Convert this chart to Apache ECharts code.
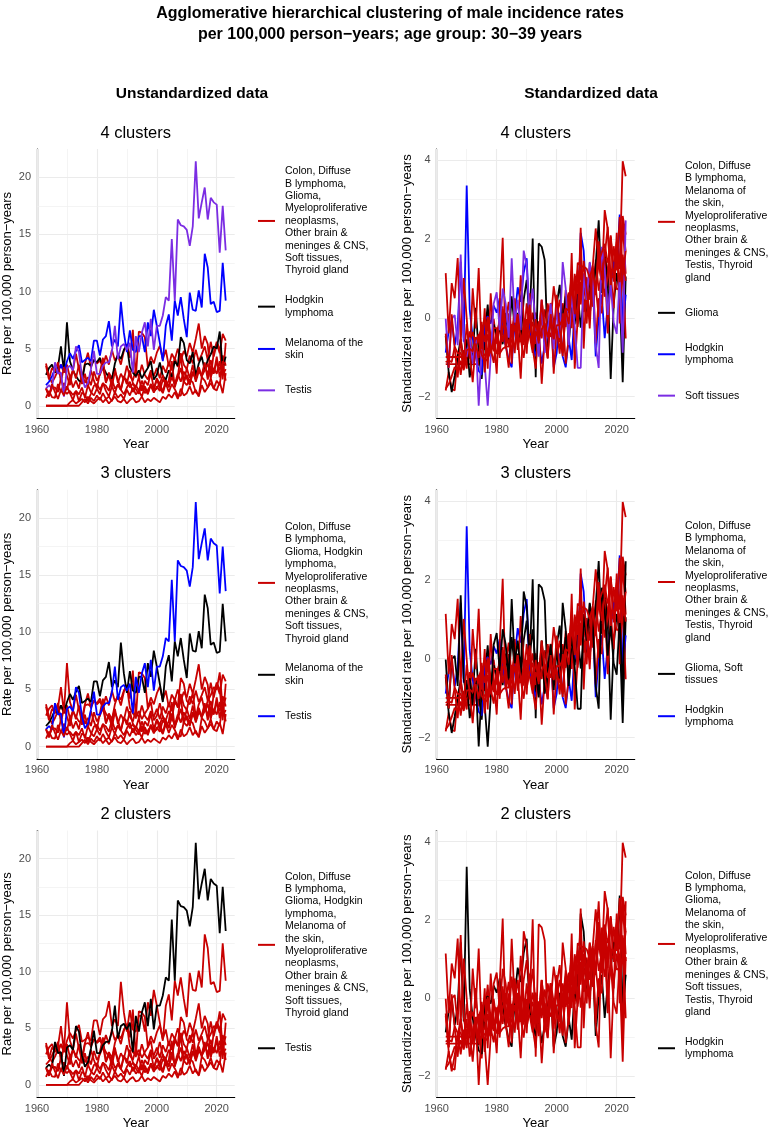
<!DOCTYPE html>
<html>
<head>
<meta charset="utf-8">
<script src="https://cdn.jsdelivr.net/npm/echarts@6/dist/echarts.min.js"></script>
<style>
html, body { margin: 0; padding: 0; background: #fff; }
#main { width: 777px; height: 1131px; }
</style>
</head>
<body>
<div id="main"></div>
<script>
// male incidence rates per 100,000, age 30-39, one value per year 1963..2023
var firstYear = 1963, lastYear = 2023;
var years = [];
for (var y = firstYear; y <= lastYear; y++) years.push(y);

var colon = [0.7, 1.3, 0.75, 0.7, 1.9, 1.2, 2.0, 1.4, 2.6, 1.6,
    2.2, 1.5, 2.9, 2.0, 2.5, 1.8, 3.0, 2.2, 2.7, 3.4,
    2.1, 2.9, 2.4, 3.3, 2.0, 2.8, 2.3, 3.5, 2.6, 2.2,
    3.2, 2.5, 3.6, 2.7, 2.3, 3.1, 2.6, 3.3, 2.4, 3.5,
    2.9, 3.8, 3.1, 4.2, 3.4, 4.6, 3.6, 3.2, 4.4, 3.7,
    4.9, 3.9, 4.5, 5.2, 4.0, 5.6, 4.3, 5.4, 4.6, 6.3, 5.7];
var diffuseB = [0, 0, 0, 0, 0, 0, 0, 0, 0, 0, 0, 0,
    0.3, 0.6, 0.2, 0.7, 0.4, 0.9, 0.5, 1.1, 0.6, 0.8,
    0.4, 1.2, 0.7, 1.0, 0.6, 1.4, 0.9, 1.6, 1.0, 1.3,
    0.8, 1.7, 1.1, 1.9, 1.3, 1.5, 2.0, 1.2, 2.3, 1.6,
    2.9, 1.8, 2.4, 3.3, 2.1, 2.7, 2.0, 3.0, 2.3, 3.2,
    2.5, 3.6, 2.7, 4.0, 2.9, 3.8, 3.1, 4.4, 3.5];
var glioma = [3.7, 2.6, 2.0, 2.5, 3.1, 3.6, 2.9, 3.6, 2.45, 3.1,
    4.55, 3.2, 2.4, 3.7, 4.65, 3.35, 4.05, 3.7, 3.95, 3.45,
    4.4, 3.6, 4.9, 3.95, 4.4, 3.6, 4.8, 5.4, 4.2, 6.65,
    2.45, 6.5, 6.4, 6.0, 3.35, 4.3, 3.7, 4.65, 5.25, 4.05,
    4.9, 3.45, 4.55, 4.05, 5.0, 3.95, 4.8, 4.3, 5.5, 4.65,
    5.85, 7.2, 5.0, 6.1, 5.4, 2.4, 4.65, 5.6, 5.0, 2.3, 5.5];
var hodgkin = [2.7, 3.3, 3.6, 2.9, 3.4, 5.2, 3.0, 7.3, 3.9, 3.1,
    2.6, 2.2, 2.1, 3.6, 3.7, 3.5, 4.0, 3.8, 4.2, 3.4,
    2.9, 2.5, 2.3, 3.7, 4.5, 4.1, 4.9, 5.3, 3.4, 2.9,
    2.6, 3.1, 2.4, 2.9, 3.3, 3.9, 2.3, 2.7, 3.8, 2.6,
    2.3, 3.1, 2.5, 3.9, 3.5, 6.0, 5.5, 4.0, 3.7, 4.7,
    2.6, 3.7, 4.3, 3.1, 4.0, 4.5, 5.2, 5.0, 6.5, 3.3, 4.3];
var melanoma = [1.8, 2.1, 2.6, 3.2, 2.9, 3.6, 3.0, 3.9, 4.6, 4.1,
    4.8, 5.3, 3.8, 4.0, 4.2, 3.9, 5.7, 5.7, 4.4, 5.8,
    6.1, 7.4, 5.2, 5.8, 5.2, 9.1, 6.4, 4.7, 6.6, 4.9,
    4.7, 6.1, 6.1, 4.7, 7.3, 6.1, 8.4, 7.0, 5.5, 3.9,
    7.0, 8.0, 5.7, 9.2, 7.9, 9.5, 7.6, 6.0, 9.9, 8.4,
    8.3, 10.1, 8.6, 13.3, 12.1, 8.9, 9.1, 8.2, 8.3, 12.5, 9.2];
var myeloproliferative = [0, 0, 0, 0, 0, 0, 0, 0,
    0.3, 0.5, 0.2, 0.4, 0.6, 0.3, 0.8, 0.4, 0.2, 0.5,
    0.7, 0.3, 0.6, 0.2, 0.5, 0.8, 0.4, 0.3, 0.6, 0.2,
    0.5, 0.7, 0.3, 0.4, 0.8, 0.3, 0.6, 0.4, 0.7, 0.5,
    0.3, 0.8, 0.6,
    1.0, 0.7, 1.2, 0.6, 1.5, 0.9, 1.1, 1.7, 1.0, 1.4,
    0.8, 1.8, 1.2, 1.6, 2.4, 1.5, 2.2, 1.8, 3.9, 3.6];
var otherBrain = [3.5, 2.3, 3.3, 3.0, 3.8, 2.1, 3.4, 2.6, 1.8, 3.2,
    2.4, 3.6, 1.9, 2.8, 1.6, 3.1, 2.2, 1.5, 2.9, 4.2,
    2.0, 2.7, 1.7, 3.0, 2.3, 1.4, 2.6, 1.9, 3.1, 2.0,
    1.6, 2.5, 1.3, 2.2, 1.8, 2.9, 1.5, 2.4, 1.9, 2.7,
    1.7, 2.2, 3.9, 1.6, 2.6, 4.4, 2.0, 3.3, 2.4, 3.6,
    2.1, 3.0, 2.7, 3.8, 2.3, 3.5, 2.8, 4.3, 2.5, 3.7, 2.2];
var softTissues = [1.55, 0.9, 1.55, 1.6, 1.2, 2.4, 1.3, 1.05, 1.3, 0.95,
    1.3, 0.4, 1.15, 0.95, 0.4, 1.05, 1.75, 1.9, 1.4, 1.95,
    1.75, 1.3, 2.35, 1.5, 1.8, 1.4, 2.45, 2.25, 1.6, 1.95,
    1.45, 1.05, 1.8, 1.1, 1.4, 1.75, 1.15, 1.7, 1.3, 2.3,
    1.95, 1.2, 1.9, 1.45, 0.9, 0.9, 2.15, 1.8, 2.3, 2.05,
    1.2, 0.9, 2.5, 2.2, 1.6, 2.0, 1.5, 1.35, 2.1, 1.1, 2.85];
var testis = [1.5, 1.8, 1.5, 3.8, 2.8, 2.9, 0.8, 3.3, 3.5, 3.1,
    5.2, 4.7, 2.6, 1.6, 2.0, 3.2, 4.8, 2.8, 2.8, 3.5,
    3.8, 3.8, 4.7, 7.0, 4.1, 5.2, 5.4, 4.9, 5.5, 2.9,
    6.1, 4.7, 6.4, 7.3, 5.2, 7.6, 4.9, 7.0, 7.0, 7.9,
    9.5, 9.2, 14.6, 9.2, 16.3, 15.8, 15.7, 15.4, 14.0, 15.7,
    21.4, 16.4, 17.8, 19.1, 16.3, 18.2, 17.8, 17.6, 13.4, 17.5, 13.6];
var thyroid = [1.5, 0.8, 1.9, 1.2, 0.6, 1.4, 0.9, 1.7, 1.1, 0.5,
    1.3, 1.0, 1.6, 0.7, 1.8, 1.2, 0.9, 1.5, 1.0, 2.0,
    1.3, 0.8, 1.7, 1.1, 1.9, 1.4, 1.0, 1.6, 2.1, 1.2,
    1.8, 1.3, 2.2, 1.5, 1.0, 1.9, 1.4, 2.3, 1.6, 1.1,
    2.0, 1.7, 2.5, 1.9, 2.8, 2.1, 3.0, 2.4, 1.8, 2.9,
    2.3, 3.4, 2.6, 3.1, 3.7, 2.5, 3.3, 2.8, 3.9, 2.7, 3.2];

var cancerNames = ['Colon', 'Diffuse B lymphoma', 'Glioma', 'Hodgkin lymphoma', 'Melanoma of the skin',
    'Myeloproliferative neoplasms', 'Other brain & meninges & CNS', 'Soft tissues', 'Testis', 'Thyroid gland'];
var cancerRates = [colon, diffuseB, glioma, hodgkin, melanoma, myeloproliferative, otherBrain, softTissues, testis, thyroid];

// cluster membership per panel (index into cancerNames), first group is the big red one
var clusters4Raw = [[0, 1, 2, 5, 6, 7, 9], [3], [4], [8]];
var clusters4Std = [[0, 1, 4, 5, 6, 8, 9], [2], [3], [7]];
var clusters3Raw = [[0, 1, 2, 3, 5, 6, 7, 9], [4], [8]];
var clusters3Std = [[0, 1, 4, 5, 6, 8, 9], [2, 7], [3]];
var clusters2Raw = [[0, 1, 2, 3, 4, 5, 6, 7, 9], [8]];
var clusters2Std = [[0, 1, 2, 4, 5, 6, 7, 8, 9], [3]];

var labels4Raw = ['Colon, Diffuse\nB lymphoma,\nGlioma,\nMyeloproliferative\nneoplasms,\nOther brain &\nmeninges & CNS,\nSoft tissues,\nThyroid gland',
    'Hodgkin\nlymphoma', 'Melanoma of the\nskin', 'Testis'];
var labels4Std = ['Colon, Diffuse\nB lymphoma,\nMelanoma of\nthe skin,\nMyeloproliferative\nneoplasms,\nOther brain &\nmeninges & CNS,\nTestis, Thyroid\ngland',
    'Glioma', 'Hodgkin\nlymphoma', 'Soft tissues'];
var labels3Raw = ['Colon, Diffuse\nB lymphoma,\nGlioma, Hodgkin\nlymphoma,\nMyeloproliferative\nneoplasms,\nOther brain &\nmeninges & CNS,\nSoft tissues,\nThyroid gland',
    'Melanoma of the\nskin', 'Testis'];
var labels3Std = ['Colon, Diffuse\nB lymphoma,\nMelanoma of\nthe skin,\nMyeloproliferative\nneoplasms,\nOther brain &\nmeninges & CNS,\nTestis, Thyroid\ngland',
    'Glioma, Soft\ntissues', 'Hodgkin\nlymphoma'];
var labels2Raw = ['Colon, Diffuse\nB lymphoma,\nGlioma, Hodgkin\nlymphoma,\nMelanoma of\nthe skin,\nMyeloproliferative\nneoplasms,\nOther brain &\nmeninges & CNS,\nSoft tissues,\nThyroid gland',
    'Testis'];
var labels2Std = ['Colon, Diffuse\nB lymphoma,\nGlioma,\nMelanoma of\nthe skin,\nMyeloproliferative\nneoplasms,\nOther brain &\nmeninges & CNS,\nSoft tissues,\nTestis, Thyroid\ngland',
    'Hodgkin\nlymphoma'];

var clusterColors = ['#C80000', '#000000', '#0000FF', '#7B2DE3'];

var xMajor = [1960, 1980, 2000, 2020], xMinor = [1970, 1990, 2010];
var yMajorRaw = [0, 5, 10, 15, 20], yMinorRaw = [2.5, 7.5, 12.5, 17.5];
var yMajorStd = [-2, 0, 2, 4], yMinorStd = [-1, 1, 3];

function standardize(arr) {
    var n = arr.length, mean = 0, ss = 0;
    arr.forEach(function (v) { mean += v; });
    mean /= n;
    arr.forEach(function (v) { ss += (v - mean) * (v - mean); });
    var sd = Math.sqrt(ss / (n - 1));
    return arr.map(function (v) { return (v - mean) / sd; });
}
var cancerStd = cancerRates.map(standardize);

function padExtent(list) {
    var lo = Infinity, hi = -Infinity;
    list.forEach(function (a) { a.forEach(function (v) { lo = Math.min(lo, v); hi = Math.max(hi, v); }); });
    var pad = (hi - lo) * 0.05;
    return [lo - pad, hi + pad];
}
var rawExtent = padExtent(cancerRates);
var stdExtent = padExtent(cancerStd);

var FONT = '"Liberation Sans", Arial, Helvetica, sans-serif';
var gridTop = [149, 489.8, 830.6], gridH = 269, colLeft = [36.7, 436.7], gridW = 198;

var panels = [
    { row: 0, col: 0, title: '4 clusters', clusters: clusters4Raw, labels: labels4Raw, std: false },
    { row: 0, col: 1, title: '4 clusters', clusters: clusters4Std, labels: labels4Std, std: true },
    { row: 1, col: 0, title: '3 clusters', clusters: clusters3Raw, labels: labels3Raw, std: false },
    { row: 1, col: 1, title: '3 clusters', clusters: clusters3Std, labels: labels3Std, std: true },
    { row: 2, col: 0, title: '2 clusters', clusters: clusters2Raw, labels: labels2Raw, std: false },
    { row: 2, col: 1, title: '2 clusters', clusters: clusters2Std, labels: labels2Std, std: true }
];

function minusFmt(v) { return v < 0 ? '\u2212' + Math.abs(v) : String(v); }

var grids = [], xAxes = [], yAxes = [], series = [], graphics = [];

graphics.push({
    type: 'text', x: 390, y: 24, silent: true,
    style: { text: 'Agglomerative hierarchical clustering of male incidence rates\nper 100,000 person\u2212years; age group: 30\u221239 years',
        fontFamily: FONT, fontSize: 16, fontWeight: 'bold', fill: '#000', lineHeight: 21,
        textAlign: 'center', verticalAlign: 'middle' }
});
graphics.push({
    type: 'text', x: 192, y: 94, silent: true,
    style: { text: 'Unstandardized data', fontFamily: FONT, fontSize: 15.5, fontWeight: 'bold', fill: '#000',
        textAlign: 'center', verticalAlign: 'middle' }
});
graphics.push({
    type: 'text', x: 591, y: 94, silent: true,
    style: { text: 'Standardized data', fontFamily: FONT, fontSize: 15.5, fontWeight: 'bold', fill: '#000',
        textAlign: 'center', verticalAlign: 'middle' }
});

panels.forEach(function (p, i) {
    var top = gridTop[p.row], left = colLeft[p.col];
    var ext = p.std ? stdExtent : rawExtent;
    grids.push({ left: left, top: top, width: gridW, height: gridH });
    xAxes.push({
        type: 'value', gridIndex: i, min: 1960, max: 2026, interval: 20,
        name: 'Year', nameLocation: 'middle', nameGap: 20,
        nameTextStyle: { color: '#000', fontSize: 13, fontFamily: FONT },
        axisLine: { onZero: false, lineStyle: { color: '#000', width: 1.2 } },
        axisTick: { show: false },
        splitLine: { show: false },
        axisLabel: { color: '#4D4D4D', fontSize: 11, fontFamily: FONT, margin: 6, showMaxLabel: false,
            formatter: function (v) { return String(v); } }
    });
    yAxes.push({
        type: 'value', gridIndex: i, min: ext[0], max: ext[1], splitNumber: p.std ? 4 : 5,
        name: p.std ? 'Standardized rate per 100,000 person\u2212years' : 'Rate per 100,000 person\u2212years',
        nameLocation: 'middle', nameRotate: 90, nameGap: 23,
        nameTextStyle: { color: '#000', fontSize: 13, fontFamily: FONT },
        axisLine: { show: true, lineStyle: { color: '#000', width: 1.2 } },
        axisTick: { show: false },
        splitLine: { show: false },
        axisLabel: { color: '#4D4D4D', fontSize: 11, fontFamily: FONT, margin: 6,
            showMinLabel: false, showMaxLabel: false, formatter: minusFmt }
    });

    // grid lines, drawn through the axes' own scales
    var yMaj = p.std ? yMajorStd : yMajorRaw, yMin = p.std ? yMinorStd : yMinorRaw;
    var gl = [];
    xMajor.forEach(function (v) { gl.push({ xAxis: v, lineStyle: { color: '#EBEBEB', width: 1.1, type: 'solid' } }); });
    xMinor.forEach(function (v) { gl.push({ xAxis: v, lineStyle: { color: '#EFEFEF', width: 0.7, type: 'solid' } }); });
    yMaj.forEach(function (v) { gl.push({ yAxis: v, lineStyle: { color: '#EBEBEB', width: 1.1, type: 'solid' } }); });
    yMin.forEach(function (v) { gl.push({ yAxis: v, lineStyle: { color: '#EFEFEF', width: 0.7, type: 'solid' } }); });
    series.push({
        type: 'line', xAxisIndex: i, yAxisIndex: i, data: [], z: 1, silent: true,
        markLine: { silent: true, symbol: ['none', 'none'], label: { show: false }, animation: false, z: 1, data: gl }
    });

    // which colour each cancer gets in this panel
    var colorOf = [];
    p.clusters.forEach(function (members, ci) {
        members.forEach(function (k) { colorOf[k] = clusterColors[ci]; });
    });
    cancerNames.forEach(function (name, k) {
        var vals = p.std ? cancerStd[k] : cancerRates[k];
        series.push({
            name: name, type: 'line', xAxisIndex: i, yAxisIndex: i, z: 3,
            showSymbol: false, silent: true, animation: false,
            lineStyle: { color: colorOf[k], width: 1.8 },
            itemStyle: { color: colorOf[k] },
            emphasis: { disabled: true },
            data: years.map(function (yr, j) { return [yr, vals[j]]; })
        });
    });

    // panel title
    graphics.push({
        type: 'text', x: left + gridW / 2, y: top - 16, silent: true,
        style: { text: p.title, fontFamily: FONT, fontSize: 16.5, fill: '#000',
            textAlign: 'center', verticalAlign: 'middle' }
    });

    // legend, centred on the panel
    var lineH = 12.4, gap = 17.5, minH = 23;
    var heights = p.labels.map(function (t) { return Math.max(t.split('\n').length * lineH, minH); });
    var total = heights.reduce(function (a, b) { return a + b; }, 0) + gap * (heights.length - 1);
    var cy = top + gridH / 2 - total / 2;
    p.labels.forEach(function (t, ci) {
        var c = cy + heights[ci] / 2;
        graphics.push({
            type: 'line', silent: true,
            shape: { x1: left + 221.3, y1: c, x2: left + 238.3, y2: c },
            style: { stroke: clusterColors[ci], lineWidth: 2 }
        });
        graphics.push({
            type: 'text', x: left + 248.3, y: c, silent: true,
            style: { text: t, fontFamily: FONT, fontSize: 10.5, fill: '#000', lineHeight: lineH,
                textAlign: 'left', verticalAlign: 'middle' }
        });
        cy += heights[ci] + gap;
    });
});

var chart = echarts.init(document.getElementById('main'), null, { renderer: 'canvas' });
chart.setOption({
    animation: false,
    backgroundColor: '#fff',
    grid: grids,
    xAxis: xAxes,
    yAxis: yAxes,
    series: series,
    graphic: graphics
});
</script>
</body>
</html>
